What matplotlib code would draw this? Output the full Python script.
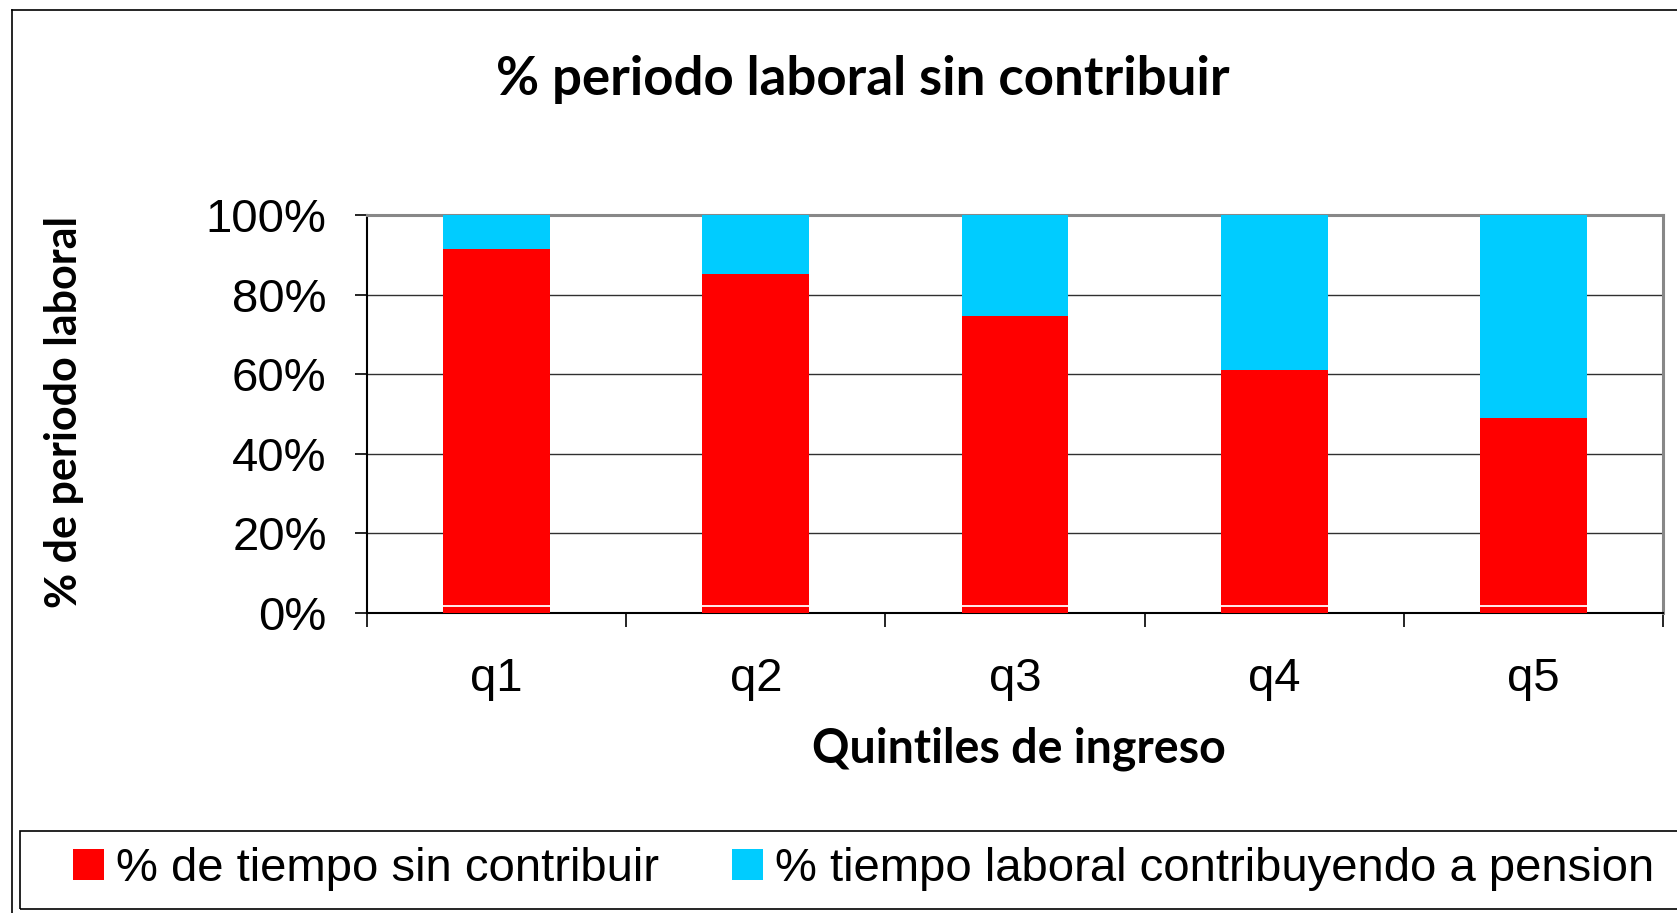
import matplotlib.pyplot as plt
from matplotlib.patches import Rectangle
from matplotlib.lines import Line2D
import numpy as np

quintiles = ['q1', 'q2', 'q3', 'q4', 'q5']
sin_contribuir = [91.4, 85.2, 74.7, 61.0, 48.9]
contribuyendo = [8.6, 14.8, 25.3, 39.0, 51.1]
base_linea = [1.7, 1.7, 1.7, 1.7, 1.7]
y_ticks = [0, 20, 40, 60, 80, 100]
y_labels = ['0%', '20%', '40%', '60%', '80%', '100%']

rojo = '#FF0000'
azul = '#00CCFF'

W, H = 1677, 913
fig = plt.figure(figsize=(W / 100, H / 100), dpi=100)
fig.patch.set_facecolor('white')

# outer chart frame (cut off at right edge)
fig.add_artist(Line2D([12 / W, 1.0], [1 - 10 / H, 1 - 10 / H], color='black', lw=1.2, transform=fig.transFigure))
fig.add_artist(Line2D([12 / W, 12 / W], [0, 1 - 10 / H], color='black', lw=1.2, transform=fig.transFigure))

ax = fig.add_axes([367 / W, (H - 613) / H, (1663 - 367) / W, (613 - 215) / H])
x = np.arange(len(quintiles))
w = 0.4125
ax.bar(x, sin_contribuir, w, color=rojo, label='% de tiempo sin contribuir', zorder=3)
ax.bar(x, contribuyendo, w, bottom=sin_contribuir, color=azul,
       label='% tiempo laboral contribuyendo a pension', zorder=3)
ax.hlines(base_linea, x - w / 2, x + w / 2, color='white', lw=1.3, zorder=4)

ax.set_xlim(-0.5, 4.5)
ax.set_ylim(0, 100)
ax.set_yticks(y_ticks)
ax.set_yticklabels(y_labels, fontsize=34, family='Liberation Sans')
ax.yaxis.grid(True, color='#303030', lw=1.0, zorder=1)
ax.tick_params(axis='y', length=9, width=1.2, pad=20, direction='out')

ax.set_xticks(np.arange(-0.5, 5, 1.0))
ax.set_xticklabels([])
ax.set_xticks(x, minor=True)
ax.set_xticklabels(quintiles, minor=True, fontsize=34, family='Liberation Sans')
ax.tick_params(axis='x', which='major', length=10, width=1.2, direction='out')
ax.tick_params(axis='x', which='minor', length=0, pad=32)

for s in ['left', 'bottom']:
    ax.spines[s].set_color('black')
    ax.spines[s].set_linewidth(1.5)
for s in ['top', 'right']:
    ax.spines[s].set_color('#888888')
    ax.spines[s].set_linewidth(2.2)
ax.set_axisbelow(True)

fig.text(807 / 1568, 1 - 79 / H, '% periodo laboral sin contribuir', ha='center', va='center',
         fontsize=38, fontweight='bold', family='Lato')
fig.text(1019 / W, 1 - 749 / H, 'Quintiles de ingreso', ha='center', va='center',
         fontsize=33.5, fontweight='bold', family='Lato')
fig.text(64 / W, 1 - 412 / H, '% de periodo laboral', ha='center', va='center', rotation=90,
         fontsize=31, fontweight='bold', family='Lato')

# legend box
fig.add_artist(Rectangle((20 / W, 1 - 909 / H), 1.0, 78 / H, transform=fig.transFigure,
                         fill=False, edgecolor='black', lw=1.2))
h, l = ax.get_legend_handles_labels()
fig.legend(h, l, loc='center left', bbox_to_anchor=(73 / W, 1 - 869 / H), ncol=2, frameon=False,
           prop={'family': 'Liberation Sans', 'size': 34}, handlelength=0.66, handleheight=0.66,
           handletextpad=0.25, columnspacing=1.55, borderpad=0, borderaxespad=0)

fig.savefig('out.png', dpi=100)
